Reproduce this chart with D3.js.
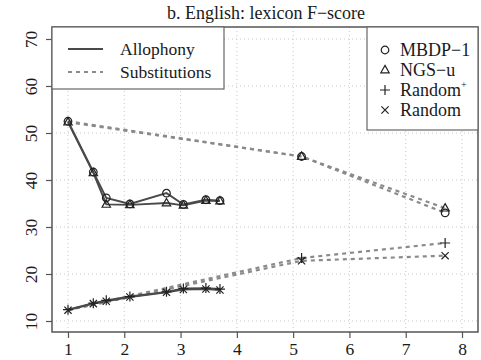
<!DOCTYPE html>
<html>
<head>
<meta charset="utf-8">
<script src="https://cdn.jsdelivr.net/npm/d3@7"></script>
<style>
  html, body { margin: 0; padding: 0; background: #fff; }
  svg { display: block; }
</style>
</head>
<body>
<svg id="chart" width="481" height="360"></svg>
<script>
// Lexicon F-score against the allophonic complexity / substitution rate
const xAllo = [1, 1.45, 1.68, 2.1, 2.75, 3.05, 3.45, 3.7];
const mbdpAllo = [52.5, 41.7, 36.2, 34.9, 37.2, 34.8, 35.8, 35.6];
const ngsAllo = [52.3, 41.5, 34.8, 34.7, 35.1, 34.6, 35.6, 35.5];
const randPlusAllo = [12.4, 13.8, 14.4, 15.2, 16.2, 16.9, 17.0, 16.8];
const randAllo = [12.3, 13.7, 14.2, 15.1, 16.1, 16.7, 16.8, 16.6];

const xSub = [1, 5.15, 7.7];
const mbdpSub = [52.5, 45.0, 33.0];
const ngsSub = [52.3, 45.0, 34.0];
const randPlusSub = [12.4, 23.4, 26.6];
const randSub = [12.3, 22.8, 23.9];

const xTicks = [1, 2, 3, 4, 5, 6, 7, 8];
const yTicks = [10, 20, 30, 40, 50, 60, 70];
const titleText = "b. English: lexicon F\u2212score";
const conditionLabels = ["Allophony", "Substitutions"];
const modelLabels = ["MBDP\u22121", "NGS\u2212u", "Random", "Random"];

const INK = "#1a1a1a";

const svg = d3.select("#chart").attr("font-family", "Liberation Serif");
const plot = { left: 52, right: 478, top: 27, bottom: 332 };

const x = d3.scaleLinear().domain([0.716, 8.284]).range([plot.left, plot.right]);
const y = d3.scaleLinear().domain([7.66, 72.55]).range([plot.bottom, plot.top]);

// serif text helper
const serif = sel => sel.style("font-family", "'Liberation Serif'").attr("fill", INK);

// dotted grid
const grid = svg.append("g").attr("stroke", "#c8c8c8").attr("stroke-width", 1).attr("stroke-dasharray", "1,3");
grid.selectAll("line.v").data(xTicks).join("line").attr("class", "v")
  .attr("x1", d => x(d)).attr("x2", d => x(d)).attr("y1", plot.top).attr("y2", plot.bottom);
grid.selectAll("line.h").data(yTicks).join("line").attr("class", "h")
  .attr("x1", plot.left).attr("x2", plot.right).attr("y1", d => y(d)).attr("y2", d => y(d));

// axes (ticks outside, serif labels)
const xAxis = svg.append("g").attr("transform", `translate(0,${plot.bottom})`)
  .call(d3.axisBottom(x).tickValues(xTicks).tickSize(6).tickPadding(5).tickFormat(d3.format("d")));
const yAxis = svg.append("g").attr("transform", `translate(${plot.left},0)`)
  .call(d3.axisLeft(y).tickValues(yTicks).tickSize(6).tickFormat(d3.format("d")));
[xAxis, yAxis].forEach(g => {
  g.attr("font-family", null).attr("font-size", null);
  g.select(".domain").remove();
  g.selectAll(".tick line").attr("stroke", "#555").attr("stroke-width", 1.2);
  g.selectAll("text").call(serif).attr("font-size", 17.5);
});
yAxis.selectAll(".tick text")
  .attr("x", null).attr("dy", null)
  .attr("text-anchor", "middle")
  .attr("transform", "translate(-21,0) rotate(-90)")
  .attr("dominant-baseline", "central");

// lines
const line = d3.line().x(d => x(d[0])).y(d => y(d[1]));
const zip = (xs, ys) => xs.map((v, i) => [v, ys[i]]);

const subSeries = [mbdpSub, ngsSub, randPlusSub, randSub];
const alloSeries = [mbdpAllo, ngsAllo, randPlusAllo, randAllo];

svg.append("g").selectAll("path").data(subSeries).join("path")
  .attr("d", s => line(zip(xSub, s)))
  .attr("fill", "none").attr("stroke", "#8a8a8a").attr("stroke-width", 2.2)
  .attr("stroke-dasharray", "4,4");

svg.append("g").selectAll("path").data(alloSeries).join("path")
  .attr("d", s => line(zip(xAllo, s)))
  .attr("fill", "none").attr("stroke", "#4a4a4a").attr("stroke-width", 1.9);

// point symbols
function symbol(g, kind, cx, cy) {
  const s = g.append("g").attr("transform", `translate(${cx},${cy})`)
    .attr("fill", "none").attr("stroke", "#222").attr("stroke-width", 1.2);
  if (kind === 0) s.append("circle").attr("r", 3.8);
  if (kind === 1) s.append("path").attr("d", "M0,-4.6L4.2,2.8L-4.2,2.8Z");
  if (kind === 2) s.append("path").attr("d", "M-5,0H5M0,-5V5");
  if (kind === 3) s.append("path").attr("d", "M-3.6,-3.6L3.6,3.6M-3.6,3.6L3.6,-3.6");
}
const pts = svg.append("g");
alloSeries.forEach((s, k) => s.forEach((v, i) => symbol(pts, k, x(xAllo[i]), y(v))));
subSeries.forEach((s, k) => s.forEach((v, i) => { if (i > 0) symbol(pts, k, x(xSub[i]), y(v)); }));

// plot frame
svg.append("rect").attr("x", plot.left).attr("y", plot.top)
  .attr("width", plot.right - plot.left).attr("height", plot.bottom - plot.top)
  .attr("fill", "none").attr("stroke", "#555").attr("stroke-width", 1.5);

// title
svg.append("text").attr("x", 266).attr("y", 19).attr("text-anchor", "middle")
  .call(serif).attr("font-size", 18).text(titleText);

// condition legend (line styles)
const lg1 = svg.append("g");
lg1.append("rect").attr("x", plot.left).attr("y", plot.top).attr("width", 172).attr("height", 62)
  .attr("fill", "#fff").attr("stroke", "#666").attr("stroke-width", 1.2);
conditionLabels.forEach((t, i) => {
  const yy = 49 + i * 23;
  lg1.append("line").attr("x1", 68).attr("x2", 103).attr("y1", yy).attr("y2", yy)
    .attr("stroke", i === 0 ? "#4a4a4a" : "#8a8a8a").attr("stroke-width", i === 0 ? 1.9 : 2.2)
    .attr("stroke-dasharray", i === 0 ? null : "4,4");
  lg1.append("text").attr("x", 120).attr("y", yy).attr("dominant-baseline", "central")
    .call(serif).attr("font-size", 17.5).text(t);
});

// model legend (symbols)
const lg2 = svg.append("g");
lg2.append("rect").attr("x", 367).attr("y", plot.top).attr("width", plot.right - 367).attr("height", 103)
  .attr("fill", "#fff").attr("stroke", "#666").attr("stroke-width", 1.2);
modelLabels.forEach((t, i) => {
  const yy = 50 + i * 20;
  symbol(lg2, i, 385, yy);
  const tx = lg2.append("text").attr("x", 400).attr("y", yy).attr("dominant-baseline", "central")
    .call(serif).attr("font-size", 18).text(t);
  if (i === 2) tx.append("tspan").attr("font-size", 10).attr("dy", -6).text("+");
});
</script>
</body>
</html>
